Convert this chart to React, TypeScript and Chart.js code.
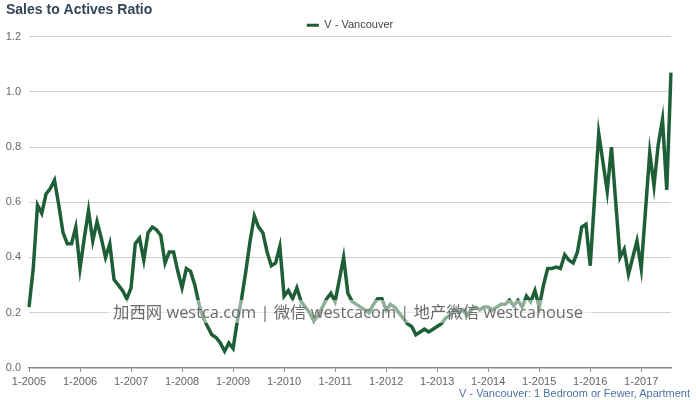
import React, { useEffect, useRef } from 'react';
import { Chart, registerables } from 'chart.js';

Chart.register(...registerables);

const FONT = "'Liberation Sans', Arial, Helvetica, sans-serif";

const chartTitle = 'Sales to Actives Ratio';
const seriesName = 'V - Vancouver';
const caption = 'V - Vancouver: 1 Bedroom or Fewer, Apartment';
const watermark = '加西网 westca.com | 微信 westcacom | 地产微信 westcahouse';

const years = [2005, 2006, 2007, 2008, 2009, 2010, 2011, 2012, 2013, 2014, 2015, 2016, 2017];
const yTicks = [0, 0.2, 0.4, 0.6, 0.8, 1.0, 1.2];

const ratio2005 = [0.22, 0.36, 0.59, 0.56, 0.63, 0.65, 0.68, 0.59, 0.49, 0.45, 0.45, 0.51];
const ratio2006 = [0.36, 0.47, 0.57, 0.46, 0.53, 0.47, 0.40, 0.45, 0.32, 0.30, 0.28, 0.25];
const ratio2007 = [0.29, 0.45, 0.47, 0.39, 0.49, 0.51, 0.50, 0.48, 0.38, 0.42, 0.42, 0.35];
const ratio2008 = [0.29, 0.36, 0.35, 0.30, 0.23, 0.18, 0.15, 0.12, 0.11, 0.09, 0.06, 0.09];
const ratio2009 = [0.07, 0.17, 0.25, 0.35, 0.46, 0.55, 0.51, 0.49, 0.42, 0.37, 0.38, 0.44];
const ratio2010 = [0.26, 0.28, 0.25, 0.29, 0.24, 0.22, 0.20, 0.17, 0.19, 0.22, 0.25, 0.27];
const ratio2011 = [0.24, 0.32, 0.40, 0.27, 0.24, 0.23, 0.22, 0.21, 0.20, 0.23, 0.25, 0.25];
const ratio2012 = [0.21, 0.23, 0.22, 0.20, 0.18, 0.16, 0.15, 0.12, 0.13, 0.14, 0.13, 0.14];
const ratio2013 = [0.15, 0.16, 0.18, 0.19, 0.21, 0.20, 0.21, 0.19, 0.21, 0.22, 0.21, 0.22];
const ratio2014 = [0.22, 0.21, 0.22, 0.23, 0.23, 0.245, 0.225, 0.245, 0.22, 0.26, 0.24, 0.28];
const ratio2015 = [0.22, 0.30, 0.36, 0.36, 0.365, 0.36, 0.41, 0.39, 0.38, 0.42, 0.51, 0.52];
const ratio2016 = [0.37, 0.61, 0.85, 0.745, 0.64, 0.80, 0.60, 0.40, 0.43, 0.34, 0.40, 0.46];
const ratio2017 = [0.36, 0.57, 0.78, 0.66, 0.81, 0.90, 0.645, 1.07];

const seriesValues = [
  ...ratio2005, ...ratio2006, ...ratio2007, ...ratio2008, ...ratio2009,
  ...ratio2010, ...ratio2011, ...ratio2012, ...ratio2013, ...ratio2014,
  ...ratio2015, ...ratio2016, ...ratio2017,
];

const monthLabels = years
  .flatMap((y) => Array.from({ length: 12 }, (_, m) => `${m + 1}-${y}`))
  .slice(0, seriesValues.length);

const LINE_COLOR = '#1f5f37';

const legendMargin = {
  id: 'legendMargin',
  beforeInit(chart: any) {
    const orig = chart.legend.fit;
    chart.legend.fit = function () {
      orig.call(this);
      this.height -= 4;
    };
  },
};

export default function App() {
  const ref = useRef<HTMLCanvasElement | null>(null);

  useEffect(() => {
    if (!ref.current) return;
    const chart = new Chart(ref.current, {
      type: 'line',
      data: {
        labels: monthLabels,
        datasets: [
          {
            label: seriesName,
            data: seriesValues,
            borderColor: LINE_COLOR,
            backgroundColor: LINE_COLOR,
            borderWidth: 3.5,
            pointRadius: 0,
            tension: 0,
            fill: false,
          },
        ],
      },
      options: {
        responsive: false,
        animation: false,
        layout: { padding: { left: 6, right: 25, top: 0, bottom: 7 } },
        plugins: {
          title: {
            display: true,
            text: chartTitle,
            align: 'start',
            color: '#344556',
            font: { family: FONT, size: 14, weight: 'bold' },
            padding: { top: 2, bottom: 1 },
          },
          legend: {
            display: true,
            position: 'top',
            fullSize: false,
            labels: {
              boxWidth: 12,
              boxHeight: 3,
              padding: 0,
              color: '#444',
              font: { family: FONT, size: 11 },
              generateLabels: (c: any) =>
                c.data.datasets.map((ds: any, i: number) => ({
                  text: ds.label,
                  fillStyle: ds.borderColor,
                  strokeStyle: ds.borderColor,
                  lineWidth: 0,
                  hidden: false,
                  datasetIndex: i,
                  fontColor: '#444',
                })),
            },
          },
          tooltip: { enabled: false },
        },
        scales: {
          x: {
            type: 'category',
            offset: false,
            border: { display: true, color: '#888', width: 1.5 },
            grid: {
              display: true,
              drawOnChartArea: false,
              drawTicks: true,
              tickLength: 4,
              color: (ctx: any) => (ctx.index % 12 === 0 ? '#888' : 'rgba(0,0,0,0)'),
            },
            afterFit: (scale: any) => {
              scale.paddingLeft = 0;
              scale.paddingRight = 0;
            },
            ticks: {
              autoSkip: false,
              maxRotation: 0,
              minRotation: 0,
              padding: 4,
              color: '#666',
              font: { family: FONT, size: 11 },
              callback: (_v: any, i: number) => (i % 12 === 0 ? monthLabels[i] : ''),
            },
          },
          y: {
            min: yTicks[0],
            max: yTicks[yTicks.length - 1],
            border: { display: false },
            grid: { color: '#d0d0d0', lineWidth: 1, drawTicks: false },
            afterBuildTicks: (scale: any) => {
              scale.ticks = yTicks.map((v) => ({ value: v }));
            },
            afterFit: (scale: any) => {
              scale.width = 23;
            },
            ticks: {
              padding: 8,
              color: '#666',
              font: { family: FONT, size: 11 },
              callback: (v: any) => Number(v).toFixed(1),
            },
          },
        },
      },
      plugins: [legendMargin],
    } as any);
    return () => chart.destroy();
  }, []);

  return (
    <div style={{ position: 'absolute', left: 0, top: 0, width: 696, height: 400, background: '#fff' }}>
      <canvas ref={ref} width={696} height={400} style={{ display: 'block', width: 696, height: 400 }} />
      <div
        style={{
          position: 'absolute',
          left: 107,
          top: 300,
          height: 23,
          paddingLeft: 6,
          paddingRight: 8,
          background: 'rgba(255,255,255,0.5)',
          color: '#6a6a6a',
          fontFamily: "'Open Sans', 'Noto Sans CJK SC', sans-serif",
          fontSize: 16.4,
          lineHeight: '23px',
          whiteSpace: 'nowrap',
        }}
      >
        {watermark}
      </div>
      <div
        style={{
          position: 'absolute',
          right: 6,
          top: 387,
          color: '#4d72a0',
          fontFamily: FONT,
          fontSize: 11,
          lineHeight: '13px',
          whiteSpace: 'nowrap',
        }}
      >
        {caption}
      </div>
    </div>
  );
}
